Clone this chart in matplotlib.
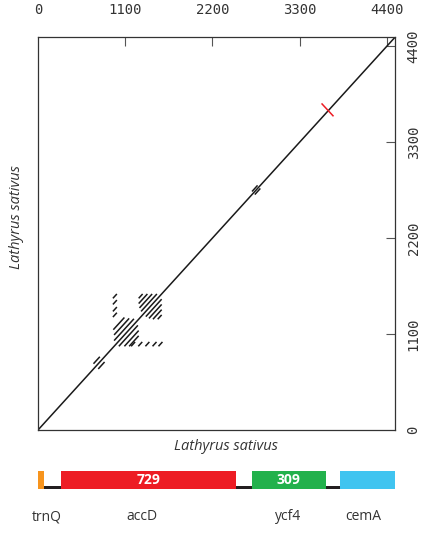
import matplotlib.pyplot as plt
from matplotlib.patches import Rectangle

# sequence length (bp) and axis ticks
seq_len = 4510
tick_values = [0, 1100, 2200, 3300, 4400]
species = "Lathyrus sativus"

# forward matches (x0, y0, x1, y1) in bp
fwd_x0 = [0, 700, 760, 2700, 2735,
          1270, 1270, 1280, 1300, 1360, 1400, 1450, 1510,
          950, 960, 960, 1020, 1090, 1150,
          945, 945, 945, 945,
          1175, 1265, 1355, 1445, 1520]
fwd_y0 = [0, 760, 700, 2735, 2700,
          1510, 1450, 1400, 1360, 1300, 1280, 1270, 1270,
          1150, 1090, 1025, 960, 960, 960,
          1510, 1440, 1360, 1295,
          960, 960, 960, 960, 960]
fwd_x1 = [seq_len, 780, 840, 2770, 2805,
          1320, 1380, 1440, 1500, 1560, 1560, 1560, 1560,
          1090, 1150, 1210, 1260, 1270, 1270,
          995, 995, 995, 995,
          1225, 1315, 1405, 1495, 1570]
fwd_y1 = [seq_len, 840, 780, 2805, 2770,
          1560, 1560, 1560, 1560, 1500, 1440, 1380, 1320,
          1290, 1280, 1275, 1200, 1140, 1080,
          1560, 1490, 1410, 1345,
          1010, 1010, 1010, 1010, 1010]

# reverse-complement matches
rev_x0 = [3577]
rev_y0 = [3745]
rev_x1 = [3728]
rev_y1 = [3597]

# gene track
gene_names = ["trnQ", "accD", "ycf4", "cemA"]
gene_starts = [0, 290, 2695, 3815]
gene_ends = [76, 2494, 3629, seq_len]
gene_colors = ["#F7941D", "#ED1C24", "#22B14C", "#40C4F0"]
gene_aa = ["", "729", "309", ""]
gene_label_x = [110, 1310, 3160, 4100]
spacer = (76, 3815)

fig = plt.figure(figsize=(4.26, 5.33), dpi=100)

ax = fig.add_axes([38 / 426, 1 - 430 / 533, 357.5 / 426, 393.3 / 533])
for x0, y0, x1, y1 in zip(fwd_x0, fwd_y0, fwd_x1, fwd_y1):
    ax.plot([x0, x1], [y0, y1], color="#1a1a1a", lw=1.1, solid_capstyle="butt")
for x0, y0, x1, y1 in zip(rev_x0, rev_y0, rev_x1, rev_y1):
    ax.plot([x0, x1], [y0, y1], color="#ED1C24", lw=1.1, solid_capstyle="butt")

ax.set_xlim(0, seq_len)
ax.set_ylim(0, seq_len)
for s in ax.spines.values():
    s.set_color("#333333")
    s.set_linewidth(0.9)

ax.xaxis.tick_top()
ax.yaxis.tick_right()
ax.set_xticks(tick_values)
ax.set_yticks(tick_values)
ax.set_xticklabels([str(v) for v in tick_values], family="DejaVu Sans Mono",
                   fontsize=10, color="#333333")
ax.set_yticklabels([str(v) for v in tick_values], family="DejaVu Sans Mono",
                   fontsize=10, color="#333333", rotation=90, va="center")
ax.tick_params(axis="x", direction="in", length=6.5, width=0.8, color="#555555", pad=14)
ax.tick_params(axis="y", direction="in", length=6.5, width=0.8, color="#555555", pad=8)
# first ticks sit on the box edge and are not drawn in the reference
ax.xaxis.get_major_ticks()[0].tick2line.set_visible(False)
ax.yaxis.get_major_ticks()[0].tick2line.set_visible(False)

fig.text(226 / 426, 1 - 446 / 533, species, style="italic", family="Open Sans",
         fontsize=10.5, color="#333333", ha="center", va="center")
fig.text(17 / 426, 1 - 217 / 533, species, style="italic", family="Open Sans",
         fontsize=10.5, color="#333333", ha="center", va="center", rotation=90)

# gene map
gax = fig.add_axes([38 / 426, 1 - 489 / 533, 357.5 / 426, 18 / 533])
gax.set_xlim(0, seq_len)
gax.set_ylim(0, 1)
gax.axis("off")
gax.add_patch(Rectangle((spacer[0], 0), spacer[1] - spacer[0], 0.17,
                        color="#231F20", lw=0))
for start, end, col, aa in zip(gene_starts, gene_ends, gene_colors, gene_aa):
    gax.add_patch(Rectangle((start, 0), end - start, 1, color=col, lw=0))
    if aa:
        gax.text((start + end) / 2, 0.5, aa, color="white", fontweight="bold",
                 family="Open Sans", fontsize=10, ha="center", va="center")

for name, gx in zip(gene_names, gene_label_x):
    fx = (38 + gx / seq_len * 357.5) / 426
    fig.text(fx, 1 - 517 / 533, name, family="Open Sans", fontsize=10,
             color="#333333", ha="center", va="center")

fig.savefig("out.png", dpi=100)
